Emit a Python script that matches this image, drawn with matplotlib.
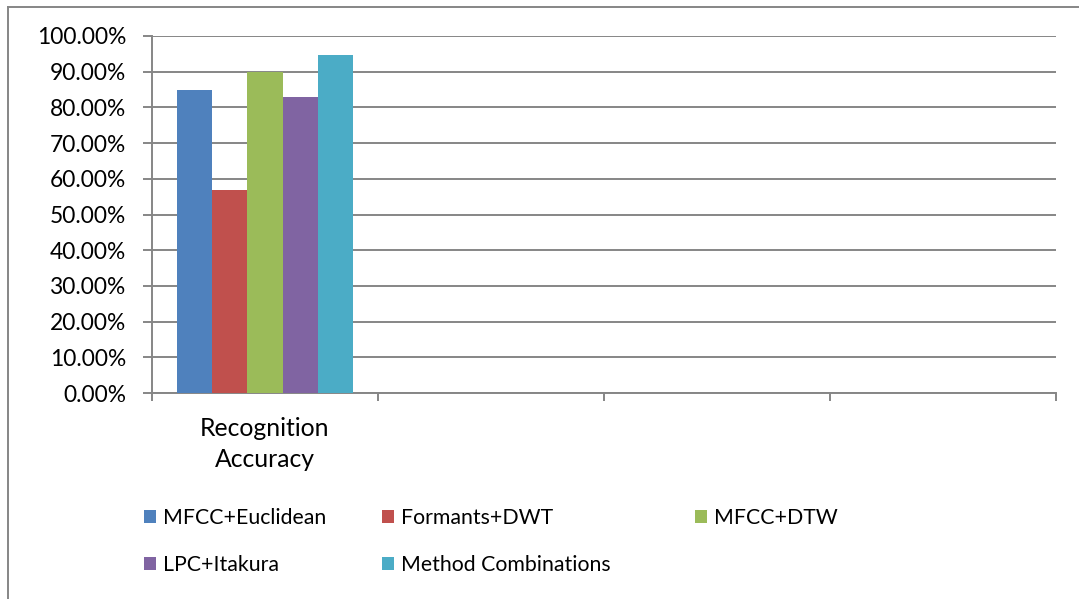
import matplotlib
matplotlib.use("Agg")
import matplotlib.pyplot as plt
from matplotlib.lines import Line2D
from matplotlib.ticker import FuncFormatter, FixedLocator

plt.rcParams['font.family'] = ['Lato', 'DejaVu Sans']

# recognition accuracy per method (%)
methods = ["MFCC+Euclidean", "Formants+DWT", "MFCC+DTW", "LPC+Itakura", "Method Combinations"]
accuracy = [85.0, 57.0, 90.0, 83.0, 94.7]
colors = ["#4F81BD", "#C0504D", "#9BBB59", "#8064A2", "#4BACC6"]
categories = ["Recognition\nAccuracy", "", "", ""]
yticks = [0, 10, 20, 30, 40, 50, 60, 70, 80, 90, 100]

W, H = 1079, 599
fig = plt.figure(figsize=(W / 100, H / 100), dpi=100)
ax = fig.add_axes([152 / W, 1 - 393 / H, (1056 - 152) / W, (393 - 36) / H])

grey = "#868686"
bw = 0.155
for i, (m, v, c) in enumerate(zip(methods, accuracy, colors)):
    ax.bar((i - 2) * bw, v, width=bw, color=c, label=m, zorder=3)

ax.set_xlim(-0.5, len(categories) - 0.5)
ax.set_ylim(0, 100)

# y axis
ax.set_yticks(yticks)
ax.yaxis.set_major_formatter(FuncFormatter(lambda v, p: f"{v:.2f}%"))
ax.yaxis.grid(True, color=grey, linewidth=1.4, zorder=0)
ax.tick_params(axis='y', length=6.5, width=1.4, color=grey, labelsize=16.4, pad=12)

# x axis: ticks at category boundaries, labels at centres
ax.xaxis.set_major_locator(FixedLocator([k - 0.5 for k in range(len(categories) + 1)]))
ax.xaxis.set_minor_locator(FixedLocator(list(range(len(categories)))))
ax.set_xticklabels([])
ax.set_xticklabels(categories, minor=True, fontsize=17.8, linespacing=1.42)
ax.tick_params(axis='x', which='major', length=6, width=1.4, color=grey)
ax.tick_params(axis='x', which='minor', length=0, pad=17.5)

for s in ["top", "right"]:
    ax.spines[s].set_visible(False)
for s in ["left", "bottom"]:
    ax.spines[s].set_color(grey)
    ax.spines[s].set_linewidth(1.4)

# legend, three columns filled row by row
h, l = ax.get_legend_handles_labels()
columns = [[0, 3], [1, 4], [2]]
col_x = [144, 382, 695]
for idx, x in zip(columns, col_x):
    fig.legend([h[k] for k in idx], [l[k] for k in idx],
               loc="upper left", bbox_to_anchor=(x / W, 1 - 508 / H),
               frameon=False, fontsize=15.3, handlelength=0.57, handleheight=0.57,
               handletextpad=0.33, labelspacing=1.27,
               borderaxespad=0, borderpad=0)

# chart area border
fig.add_artist(Line2D([8 / W, 1], [1 - 7 / H, 1 - 7 / H], color=grey, linewidth=1.4))
fig.add_artist(Line2D([8 / W, 8 / W], [0, 1 - 7 / H], color=grey, linewidth=1.4))

fig.savefig("out.png", dpi=100, facecolor="white")
